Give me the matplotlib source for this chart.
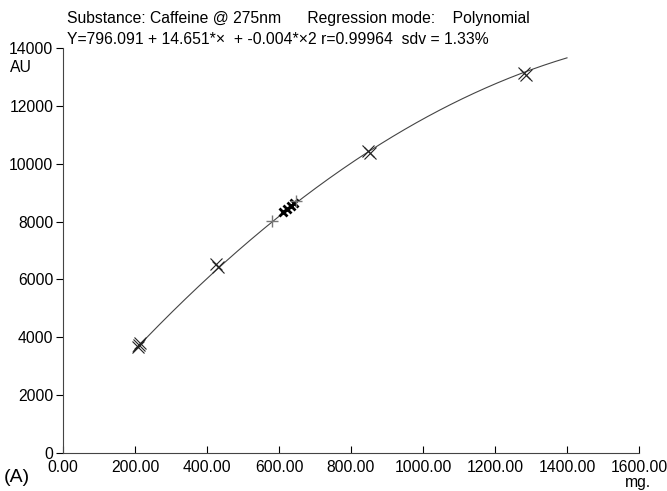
import matplotlib.pyplot as plt
import numpy as np

plt.rcParams['font.family'] = ['Liberation Sans', 'DejaVu Sans']

# regression coefficients (c2 a bit more precise than the printed -0.004)
b0, b1, b2 = 796.091, 14.651, -0.0039
curve_min, curve_max = 195, 1400

# standards (thin crosses)
std_x = [208, 214, 212, 425, 430, 848, 853, 1280, 1287]
std_y = [3660, 3790, 3720, 6530, 6430, 10450, 10360, 13150, 13080]
# samples (bold crosses)
smp_x = [612, 622, 632, 642]
smp_y = [8320, 8420, 8540, 8630]
# gray plus markers
plus_x = [580, 646]
plus_y = [8030, 8700]

xticks = [0, 200, 400, 600, 800, 1000, 1200, 1400, 1600]
yticks = [0, 2000, 4000, 6000, 8000, 10000, 12000, 14000]

fig = plt.figure(figsize=(6.67, 4.91), dpi=100)
ax = fig.add_axes([0.0945, 0.0774, 0.8635, 0.8246])

xc = np.linspace(curve_min, curve_max, 300)
ax.plot(xc, b0 + b1 * xc + b2 * xc**2, color="#444444", lw=0.8)

ax.plot(std_x, std_y, ls="none", marker="x", ms=8, mew=0.8, color="#222222")
ax.plot(smp_x, smp_y, ls="none", marker="x", ms=6, mew=2.0, color="black")
ax.plot(plus_x, plus_y, ls="none", marker="+", ms=9, mew=1.0, color="#777777")

ax.set_xlim(0, 1600)
ax.set_ylim(0, 14000)
ax.set_xticks(xticks)
ax.set_xticklabels([f"{v:.2f}" for v in xticks])
ax.set_yticks(yticks)
ax.set_yticklabels([str(v) for v in yticks])
ax.spines["top"].set_visible(False)
ax.spines["right"].set_visible(False)
for s in ["left", "bottom"]:
    ax.spines[s].set_linewidth(0.8)
    ax.spines[s].set_color("#444444")
ax.tick_params(axis="x", direction="in", length=5, pad=5, labelsize=11.3, width=0.8)
ax.tick_params(axis="y", direction="out", length=5, pad=2, labelsize=11.3, width=0.8)

fig.text(67 / 667, 1 - 18 / 491, "Substance: Caffeine @ 275nm      Regression mode:    Polynomial",
         fontsize=11.3, va="center", ha="left")
fig.text(67 / 667, 1 - 40 / 491, "Y=796.091 + 14.651*×  + -0.004*×2 r=0.99964  sdv = 1.33%",
         fontsize=11.3, va="center", ha="left")
fig.text(10 / 667, 1 - 68 / 491, "AU", fontsize=11.3, va="center", ha="left")
fig.text(638 / 667, 1 - 482 / 491, "mg.", fontsize=11.3, va="center", ha="center")
fig.text(4 / 667, 1 - 478 / 491, "(A)", fontsize=14, va="center", ha="left")

fig.savefig("out.png", dpi=100)
